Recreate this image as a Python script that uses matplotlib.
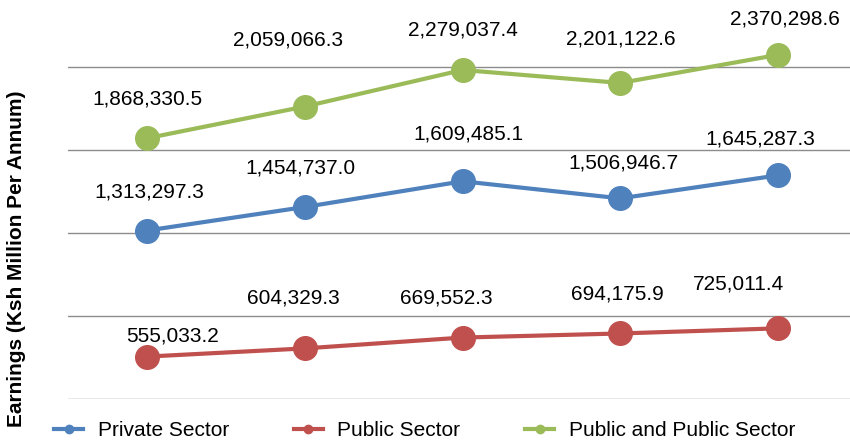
import matplotlib
matplotlib.use("Agg")
import matplotlib.pyplot as plt
from matplotlib.lines import Line2D

plt.rcParams['font.family'] = ['Liberation Sans', 'DejaVu Sans']

# earnings, Ksh million per annum (five periods)
periods = [0, 1, 2, 3, 4]
private_sector = [1313297.3, 1454737.0, 1609485.1, 1506946.7, 1645287.3]
public_sector = [555033.2, 604329.3, 669552.3, 694175.9, 725011.4]
public_and_public = [1868330.5, 2059066.3, 2279037.4, 2201122.6, 2370298.6]

series_names = ["Private Sector", "Public Sector", "Public and Public Sector"]
colors = ["#4F81BD", "#C0504D", "#9BBB59"]

# label nudges in pixels (dx, dy), hand placed in the original
label_offsets = [
    [(2, 39), (-4, 39), (6, 47), (3, 35), (-18, 36)],
    [(26, 21), (-11, 50), (-16, 40), (-3, 39), (-40, 44)],
    [(1, 39), (-17, 67), (0, 40), (1, 44), (7, 36)],
]

fig = plt.figure(figsize=(8.5, 4.42), dpi=100)
ax = fig.add_axes([68 / 850, 1 - 399 / 442, 789 / 850, 399 / 442])

all_series = [private_sector, public_sector, public_and_public]
for vals, name, col, offs in zip(all_series, series_names, colors, label_offsets):
    ax.plot(periods, vals, color=col, lw=3, marker="o", markersize=17,
            label=name, zorder=3)
    for x, v, (dx, dy) in zip(periods, vals, offs):
        ax.annotate(f"{v:,.1f}", (x, v), xytext=(dx, dy),
                    textcoords="offset pixels", ha="center", va="center",
                    fontsize=15, color="black")

ax.set_xlim(-0.5, 4.5)
ax.set_ylim(300000, 2700000)
ax.set_yticks([300000, 800000, 1300000, 1800000, 2300000])
ax.yaxis.grid(True, color="#8c8c8c", lw=1.0)
ax.set_axisbelow(True)
ax.tick_params(left=False, bottom=False, labelleft=False, labelbottom=False)
for s in ax.spines.values():
    s.set_visible(False)

fig.text(17 / 850, 1 - 259 / 442, "Earnings (Ksh Million Per Annum)",
         rotation=90, ha="center", va="center", fontsize=15, fontweight="bold")

handles = [Line2D([], [], color=c, lw=3, marker="o", markersize=6) for c in colors]
fig.legend(handles, series_names, loc="center left",
           bbox_to_anchor=(54 / 850, 1 - 431 / 442), ncol=3, frameon=False,
           fontsize=15, handlelength=1.4, handletextpad=0.7,
           columnspacing=3.1, borderpad=0, borderaxespad=0)

fig.savefig("out.png", dpi=100)
